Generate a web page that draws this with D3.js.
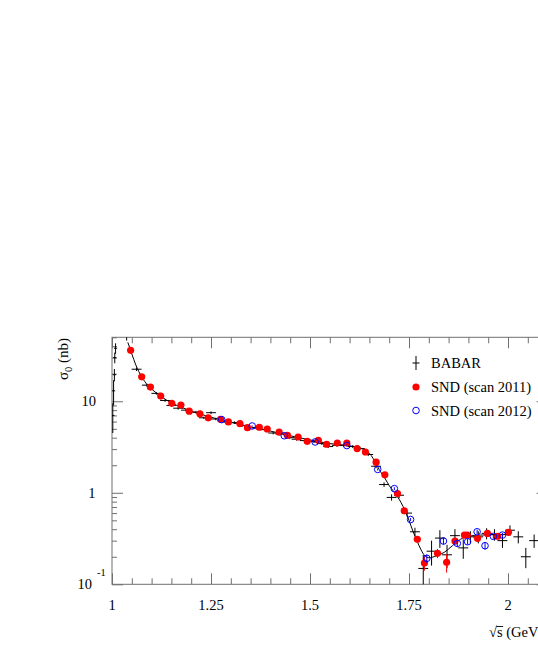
<!DOCTYPE html>
<html>
<head>
<meta charset="utf-8">
<script src="https://cdn.jsdelivr.net/npm/d3@7"></script>
<style>
  body { margin: 0; background: #fff; }
  svg { display: block; }
  text { font-family: "Liberation Serif", "Times New Roman", serif; fill: #000; }
</style>
</head>
<body>
<script>
// BABAR points: energy (GeV), cross section (nb), error
const babarX = [1.002, 1.004, 1.006, 1.007, 1.009, 1.037, 1.062, 1.088, 1.112, 1.134,
  1.150, 1.167, 1.187, 1.212, 1.232, 1.250, 1.262, 1.285, 1.309, 1.330,
  1.365, 1.385, 1.407, 1.425, 1.449, 1.466, 1.487, 1.510, 1.530, 1.546,
  1.568, 1.585, 1.608, 1.626, 1.647, 1.667, 1.687, 1.706, 1.725, 1.745,
  1.765, 1.786, 1.807, 1.828, 1.846, 1.866, 1.887, 1.905, 1.925, 1.946,
  1.966, 1.986, 2.005, 2.026, 2.045, 2.066];
const babarY = [7.0, 13, 19.5, 30, 38, 52, 22.4, 15.0, 12.2, 10.2,
  9.0, 8.4, 8.0, 7.6, 6.6, 7.5, 6.4, 6.0, 5.85, 5.45,
  5.1, 4.9, 4.5, 4.4, 4.0, 3.85, 3.72, 3.62, 3.45, 3.2,
  3.3, 3.3, 3.2, 3.04, 2.62, 1.95, 1.23, 0.89, 0.94, 0.60,
  0.375, 0.149, 0.23, 0.32, 0.21, 0.34, 0.25, 0.33, 0.33, 0.36,
  0.35, 0.30, 0.39, 0.33, 0.20, 0.30];
const babarErr = [2.5, 4, 3, 4, 5, 6, 1.0, 0.6, 0.4, 0.35,
  0.3, 0.3, 0.25, 0.25, 0.2, 0.25, 0.2, 0.2, 0.2, 0.18,
  0.17, 0.16, 0.15, 0.15, 0.14, 0.13, 0.13, 0.12, 0.12, 0.12,
  0.12, 0.12, 0.12, 0.11, 0.1, 0.09, 0.07, 0.07, 0.07, 0.05,
  0.04, 0.06, 0.07, 0.07, 0.06, 0.06, 0.06, 0.05, 0.05, 0.05,
  0.05, 0.05, 0.05, 0.05, 0.05, 0.05];

// SND scan 2011
const snd11X = [1.047, 1.075, 1.097, 1.123, 1.151, 1.174, 1.195, 1.222, 1.243, 1.274,
  1.294, 1.323, 1.342, 1.372, 1.392, 1.422, 1.443, 1.470, 1.493, 1.521,
  1.542, 1.569, 1.593, 1.619, 1.640, 1.667, 1.689, 1.721, 1.738, 1.771,
  1.789, 1.822, 1.845, 1.866, 1.890, 1.897, 1.923, 1.948, 1.974, 2.001];
const snd11Y = [36, 18.5, 14.3, 11.4, 9.5, 9.1, 7.8, 7.3, 6.6, 6.35,
  5.95, 5.7, 5.15, 5.2, 4.98, 4.6, 4.25, 4.07, 3.65, 3.75,
  3.39, 3.5, 3.5, 3.04, 2.79, 2.16, 1.57, 0.98, 0.635, 0.31,
  0.171, 0.218, 0.174, 0.297, 0.345, 0.345, 0.318, 0.36, 0.335, 0.37];
const snd11Err = [0.8, 0.4, 0.3, 0.2, 0.15, 0.15, 0.12, 0.1, 0.1, 0.1,
  0.08, 0.08, 0.08, 0.08, 0.07, 0.07, 0.06, 0.06, 0.05, 0.05,
  0.05, 0.05, 0.05, 0.05, 0.05, 0.05, 0.04, 0.03, 0.025, 0.02,
  0.03, 0.025, 0.04, 0.025, 0.025, 0.025, 0.025, 0.025, 0.025, 0.025];

// SND scan 2012
const snd12X = [1.277, 1.354, 1.435, 1.513, 1.593, 1.671, 1.713, 1.754, 1.795, 1.837,
  1.872, 1.898, 1.922, 1.942, 1.963, 1.986];
const snd12Y = [6.3, 5.37, 4.2, 3.59, 3.28, 1.8, 1.11, 0.51, 0.192, 0.297,
  0.28, 0.292, 0.375, 0.264, 0.334, 0.345];
const snd12Err = [0.1, 0.08, 0.07, 0.06, 0.06, 0.05, 0.04, 0.02, 0.02, 0.025,
  0.025, 0.02, 0.02, 0.025, 0.02, 0.02];

// fit curve
const fitX = [1.040, 1.05, 1.06, 1.075, 1.09, 1.10, 1.125, 1.15, 1.175, 1.20,
  1.225, 1.25, 1.275, 1.30, 1.325, 1.35, 1.375, 1.40, 1.425, 1.45,
  1.475, 1.50, 1.525, 1.55, 1.575, 1.60, 1.625, 1.64, 1.65, 1.66,
  1.67, 1.68, 1.69, 1.70, 1.71, 1.72, 1.73, 1.74, 1.75, 1.76,
  1.77, 1.78, 1.79, 1.80, 1.82, 1.84, 1.86, 1.88, 1.90, 1.93,
  1.96, 2.00];
const fitY = [44, 33, 25, 18.5, 15, 13.6, 11.2, 9.6, 8.6, 7.8,
  7.2, 6.7, 6.25, 5.9, 5.55, 5.25, 5.0, 4.72, 4.45, 4.2,
  3.98, 3.78, 3.6, 3.45, 3.35, 3.25, 3.1, 2.9, 2.7, 2.35,
  1.95, 1.65, 1.42, 1.2, 1.05, 0.92, 0.78, 0.64, 0.5, 0.38,
  0.3, 0.24, 0.205, 0.195, 0.205, 0.225, 0.265, 0.31, 0.335, 0.345,
  0.348, 0.35];

const xMajor = [1, 1.25, 1.5, 1.75, 2];
const xLabels = ["1", "1.25", "1.5", "1.75", "2"];
const yMajor = [0.1, 1, 10];
const legendNames = ["BABAR", "SND (scan 2011)", "SND (scan 2012)"];

const width = 538, height = 647;
const pLeft = 112, pRight = 547.6, pTop = 337.3, pBottom = 584.3;
const axisColor = "#707070";

const svg = d3.select("body").append("svg")
  .attr("width", width)
  .attr("height", height);

const x = d3.scaleLinear().domain([1, 2.1]).range([pLeft, pRight]);
const y = d3.scaleLog().domain([0.1, 50]).range([pBottom, pTop]);

const xMinor = d3.range(1, 2.1001, 0.05).map(v => +v.toFixed(2))
  .filter(v => !xMajor.some(m => Math.abs(m - v) < 1e-6));
const yMinor = y.ticks().filter(v => !yMajor.some(m => Math.abs(m - v) < 1e-9));

// axes: ticks pointing inward on all four sides
function ticks(axis, pos, vals, size) {
  const g = svg.append("g").attr("transform", pos)
    .call(axis.tickValues(vals).tickSize(-size).tickFormat(""));
  g.select(".domain").remove();
  g.selectAll("line").attr("stroke", axisColor);
}
ticks(d3.axisBottom(x), `translate(0,${pBottom})`, xMinor, 6);
ticks(d3.axisBottom(x), `translate(0,${pBottom})`, xMajor, 11);
ticks(d3.axisTop(x), `translate(0,${pTop})`, xMinor, 6);
ticks(d3.axisTop(x), `translate(0,${pTop})`, xMajor, 11);
ticks(d3.axisLeft(y), `translate(${pLeft},0)`, yMinor, 5);
ticks(d3.axisLeft(y), `translate(${pLeft},0)`, yMajor, 11);
ticks(d3.axisRight(y), `translate(${pRight},0)`, yMinor, 5);
ticks(d3.axisRight(y), `translate(${pRight},0)`, yMajor, 11);

svg.append("rect")
  .attr("x", pLeft).attr("y", pTop)
  .attr("width", pRight - pLeft).attr("height", pBottom - pTop)
  .attr("fill", "none").attr("stroke", axisColor).attr("stroke-width", 1);

// tick labels
svg.append("g").selectAll("text").data(xMajor).join("text")
  .attr("x", d => x(d)).attr("y", 609.5)
  .attr("text-anchor", "middle").attr("font-size", 14.5)
  .text((d, i) => xLabels[i]);

svg.append("text").attr("x", 96).attr("y", y(10) + 5)
  .attr("text-anchor", "end").attr("font-size", 14.5).text("10");
svg.append("text").attr("x", 95.5).attr("y", y(1) + 5)
  .attr("text-anchor", "end").attr("font-size", 14.5).text("1");
svg.append("text").attr("x", 92).attr("y", y(0.1) + 4.5)
  .attr("text-anchor", "end").attr("font-size", 14.5).text("10");
svg.append("text").attr("x", 97).attr("y", y(0.1) - 8)
  .attr("font-size", 10.5).text("-1");

// axis titles
const yt = svg.append("text")
  .attr("transform", "translate(68,338) rotate(-90)")
  .attr("text-anchor", "end").attr("font-size", 15);
yt.append("tspan").text("σ");
yt.append("tspan").attr("font-size", 10.5).attr("dy", 4).text("0");
yt.append("tspan").attr("dy", -4).text("\u00a0(nb)");

const sx = 489, sy = 637;
const rad = svg.append("text").attr("x", sx).attr("y", sy).attr("font-size", 14.5).text("√");
const rw = rad.node().getComputedTextLength();
const sT = svg.append("text").attr("x", sx + rw).attr("y", sy).attr("font-size", 14.5).text("s");
const sw = sT.node().getComputedTextLength();
svg.append("line")
  .attr("x1", sx + rw - 0.5).attr("x2", sx + rw + sw + 0.5)
  .attr("y1", sy - 10.5).attr("y2", sy - 10.5)
  .attr("stroke", "#000").attr("stroke-width", 0.9);
svg.append("text").attr("x", sx + rw + sw).attr("y", sy).attr("font-size", 14.5)
  .text("\u00a0(GeV)");

// plot area
svg.append("clipPath").attr("id", "clip").append("rect")
  .attr("x", pLeft).attr("y", pTop)
  .attr("width", pRight - pLeft).attr("height", pBottom - pTop);
const plot = svg.append("g").attr("clip-path", "url(#clip)");

const babar = babarX.map((v, i) => ({ x: v, y: babarY[i], e: babarErr[i] }));
const snd11 = snd11X.map((v, i) => ({ x: v, y: snd11Y[i], e: snd11Err[i] }));
const snd12 = snd12X.map((v, i) => ({ x: v, y: snd12Y[i], e: snd12Err[i] }));
const fit = fitX.map((v, i) => ({ x: v, y: fitY[i] }));

const yc = v => y(Math.max(v, 0.05));

// BABAR crosses
const bg = plot.append("g").attr("stroke", "#000").attr("stroke-width", 1);
bg.selectAll(".h").data(babar).join("line").attr("class", "h")
  .attr("x1", d => x(d.x - (d.x < 1.02 ? 0.004 : 0.0125)))
  .attr("x2", d => x(d.x + (d.x < 1.02 ? 0.004 : 0.0125)))
  .attr("y1", d => y(d.y)).attr("y2", d => y(d.y));
bg.selectAll(".v").data(babar).join("line").attr("class", "v")
  .attr("x1", d => x(d.x)).attr("x2", d => x(d.x))
  .attr("y1", d => yc(d.y - d.e)).attr("y2", d => yc(d.y + d.e));

// fit curve
plot.append("path").datum(fit)
  .attr("fill", "none").attr("stroke", "#000").attr("stroke-width", 1)
  .attr("d", d3.line().x(d => x(d.x)).y(d => y(d.y)).curve(d3.curveMonotoneX));

// SND 2011
plot.append("g").selectAll("line").data(snd11).join("line")
  .attr("x1", d => x(d.x)).attr("x2", d => x(d.x))
  .attr("y1", d => yc(d.y - d.e)).attr("y2", d => yc(d.y + d.e))
  .attr("stroke", "#ff0000").attr("stroke-width", 1);
plot.append("g").selectAll("circle").data(snd11).join("circle")
  .attr("cx", d => x(d.x)).attr("cy", d => y(d.y)).attr("r", 3.6)
  .attr("fill", "#ff0000");

// SND 2012
plot.append("g").selectAll("line").data(snd12).join("line")
  .attr("x1", d => x(d.x)).attr("x2", d => x(d.x))
  .attr("y1", d => yc(d.y - d.e)).attr("y2", d => yc(d.y + d.e))
  .attr("stroke", "#0000ff").attr("stroke-width", 1);
plot.append("g").selectAll("circle").data(snd12).join("circle")
  .attr("cx", d => x(d.x)).attr("cy", d => y(d.y)).attr("r", 3.3)
  .attr("fill", "none").attr("stroke", "#0000ff").attr("stroke-width", 1);

// legend
const lx = 416, ltx = 431;
const rows = [363, 387, 410.5];
svg.append("line").attr("x1", lx - 3.5).attr("x2", lx + 3.5)
  .attr("y1", rows[0]).attr("y2", rows[0]).attr("stroke", "#000");
svg.append("line").attr("x1", lx).attr("x2", lx)
  .attr("y1", rows[0] - 7).attr("y2", rows[0] + 7).attr("stroke", "#000");
svg.append("circle").attr("cx", lx).attr("cy", rows[1]).attr("r", 3.6).attr("fill", "#ff0000");
svg.append("circle").attr("cx", lx).attr("cy", rows[2]).attr("r", 3.3)
  .attr("fill", "none").attr("stroke", "#0000ff");
svg.append("g").selectAll("text").data(legendNames).join("text")
  .attr("x", ltx).attr("y", (d, i) => rows[i] + 5)
  .attr("font-size", 14.5).text(d => d);
</script>
</body>
</html>
